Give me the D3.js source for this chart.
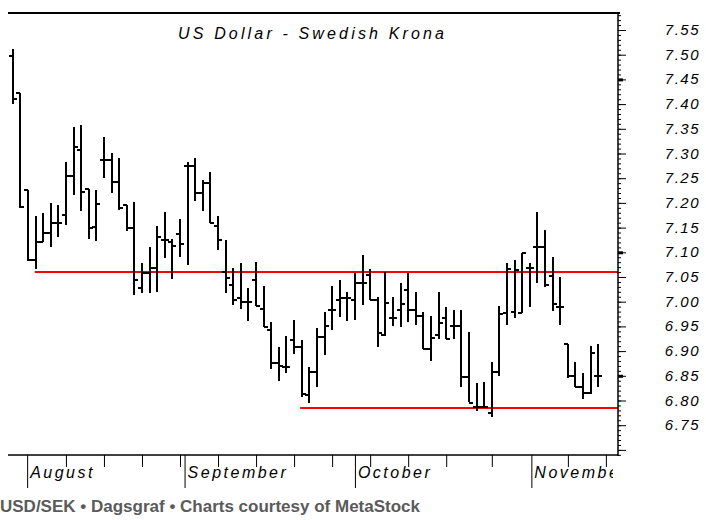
<!DOCTYPE html>
<head>
  <meta charset="utf-8">
  <script src="https://d3js.org/d3.v7.min.js"></script>
  <style>
    body { margin: 0; background: #fff; }
  </style>
</head>
<body>
  <div id="chart"></div>

  <script>
    var width = 706;
    var height = 520;

    // daily OHLC bars, end of July to start of November
    var opens  = [7.497, 7.422, 7.226, 7.084, 7.121, 7.139, 7.159, 7.175, 7.254, 7.307,
                  7.228, 7.151, 7.287, 7.287, 7.242, 7.196, 7.149, 7.028, 7.058, 7.068,
                  7.125, 7.121, 7.137, 7.275, 7.275, 7.220, 7.240, 7.153, 7.060, 7.034,
                  7.007, 6.999, 7.044, 6.985, 6.943, 6.876, 6.868, 6.922, 6.908, 6.811,
                  6.858, 6.929, 6.983, 7.003, 7.007, 7.003, 7.038, 7.054, 7.003, 6.933,
                  6.967, 6.983, 7.024, 6.983, 6.971, 6.904, 6.933, 6.967, 6.951, 6.951,
                  6.847, 6.787, 6.787, 6.775, 6.858, 6.977, 6.979, 6.977, 7.068, 7.111,
                  7.111, 7.052, 6.989, 6.914, 6.850, 6.827, 6.815, 6.850];
    var highs  = [7.511, 7.422, 7.226, 7.173, 7.179, 7.200, 7.196, 7.283, 7.354, 7.358,
                  7.228, 7.226, 7.333, 7.301, 7.291, 7.196, 7.202, 7.078, 7.111, 7.153,
                  7.182, 7.127, 7.167, 7.283, 7.291, 7.246, 7.263, 7.173, 7.125, 7.068,
                  7.078, 7.028, 7.080, 7.032, 6.959, 6.908, 6.931, 6.963, 6.922, 6.868,
                  6.947, 6.979, 7.032, 7.044, 7.020, 7.058, 7.095, 7.066, 7.010, 7.060,
                  7.010, 7.038, 7.058, 7.020, 6.979, 6.971, 7.020, 6.989, 6.983, 6.983,
                  6.939, 6.835, 6.837, 6.878, 6.991, 7.078, 7.084, 7.099, 7.078, 7.182,
                  7.145, 7.090, 7.050, 6.914, 6.878, 6.856, 6.910, 6.914];
    var lows   = [7.400, 7.190, 7.082, 7.066, 7.121, 7.111, 7.131, 7.155, 7.216, 7.184,
                  7.127, 7.123, 7.250, 7.220, 7.186, 7.143, 7.014, 7.018, 7.018, 7.020,
                  7.088, 7.046, 7.090, 7.074, 7.204, 7.184, 7.159, 7.105, 7.018, 6.993,
                  6.985, 6.961, 6.991, 6.949, 6.864, 6.839, 6.856, 6.894, 6.807, 6.795,
                  6.827, 6.892, 6.943, 6.969, 6.961, 6.963, 6.993, 7.003, 6.908, 6.931,
                  6.951, 6.949, 6.959, 6.953, 6.904, 6.880, 6.924, 6.924, 6.924, 6.827,
                  6.797, 6.779, 6.785, 6.767, 6.850, 6.953, 6.967, 6.977, 6.989, 7.038,
                  7.030, 6.981, 6.953, 6.845, 6.827, 6.803, 6.813, 6.827];
    var closes = [7.410, 7.192, 7.084, 7.121, 7.139, 7.159, 7.159, 7.254, 7.313, 7.222,
                  7.149, 7.198, 7.287, 7.242, 7.190, 7.149, 7.044, 7.058, 7.068, 7.131,
                  7.125, 7.113, 7.117, 7.275, 7.220, 7.240, 7.159, 7.125, 7.048, 7.003,
                  6.999, 6.999, 6.991, 6.949, 6.876, 6.870, 6.868, 6.908, 6.813, 6.858,
                  6.929, 6.951, 6.983, 7.007, 7.007, 7.038, 7.038, 7.003, 6.937, 6.997,
                  6.967, 6.995, 6.983, 6.971, 6.904, 6.926, 6.957, 6.924, 6.951, 6.847,
                  6.795, 6.787, 6.787, 6.858, 6.975, 7.066, 7.064, 7.099, 7.068, 7.111,
                  7.034, 6.995, 6.989, 6.850, 6.827, 6.815, 6.896, 6.850];

    // months start at these bar slots, weekly ticks in between
    var months = ['August', 'September', 'October', 'November'];
    var monthStart = [1.9, 22.6, 45, 68.2];
    var weekTicks = [7, 12, 17, 22, 27, 32, 37, 42, 47, 52, 57, 63, 73, 78];

    var priceLabels = [7.55, 7.50, 7.45, 7.40, 7.35, 7.30, 7.25, 7.20, 7.15, 7.10,
                       7.05, 7.00, 6.95, 6.90, 6.85, 6.80, 6.75];

    // drawn trend lines: level and first bar slot
    var levels = [7.06, 6.785];
    var levelFrom = [2.9, 37.8];

    var bars = opens.map((o, i) => ({i: i, o: o, h: highs[i], l: lows[i], c: closes[i]}));

    var axisX = 618;
    var x = d3.scaleLinear().domain([0, bars.length - 1]).range([12.7, 598.3]);
    var y = d3.scaleLinear().domain([6.75, 7.55]).range([425.2, 30]);

    var svg = d3.select('#chart')
      .append('svg')
        .attr('width', width)
        .attr('height', height)
        .style('display', 'block')
        .style('background', '#fff');

    // frame: top rule
    svg.append('line')
      .attr('x1', 8).attr('x2', axisX + 2)
      .attr('y1', 13).attr('y2', 13)
      .attr('stroke', '#000').attr('stroke-width', 2);

    svg.append('text')
      .attr('x', 178).attr('y', 39)
      .attr('textLength', 266)
      .attr('lengthAdjust', 'spacing')
      .style('font', 'italic 16px "Liberation Sans", Arial, sans-serif')
      .style('fill', '#000')
      .text('US Dollar - Swedish Krona');

    // red support / resistance lines
    svg.append('g')
      .selectAll('line')
      .data(levels)
      .join('line')
        .attr('x1', (d, k) => x(levelFrom[k]))
        .attr('x2', axisX)
        .attr('y1', d => Math.round(y(d)))
        .attr('y2', d => Math.round(y(d)))
        .attr('stroke', '#ff0000')
        .attr('stroke-width', 2);

    // OHLC bars
    svg.append('g')
      .selectAll('path')
      .data(bars)
      .join('path')
        .attr('d', d => {
          var bx = Math.round(x(d.i));
          return 'M' + bx + ',' + Math.round(y(d.h)) + 'V' + Math.round(y(d.l)) +
                 'M' + (bx - 4) + ',' + Math.round(y(d.o)) + 'H' + bx +
                 'M' + bx + ',' + Math.round(y(d.c)) + 'H' + (bx + 4);
        })
        .attr('fill', 'none')
        .attr('stroke', '#000')
        .attr('stroke-width', 2);

    // right price axis
    var minor = d3.range(669, 759).map(v => v / 100);
    var yAxisG = svg.append('g').attr('transform', 'translate(' + axisX + ',0)');
    yAxisG.append('g')
      .call(d3.axisRight(y).tickValues(minor).tickSize(3).tickFormat(''))
      .call(g => g.select('.domain').remove());
    yAxisG.append('g')
      .call(d3.axisRight(y).tickValues(minor.filter(v => Math.round(v * 100) % 5 == 0)).tickSize(8).tickFormat(''))
      .call(g => g.select('.domain').remove());
    yAxisG.append('g')
      .call(d3.axisRight(y).tickValues([7.45, 7.10, 6.85]).tickSize(5).tickFormat(''))
      .call(g => g.select('.domain').remove())
      .selectAll('line').attr('stroke-width', 3);
    yAxisG.append('line')
      .attr('x1', 0).attr('x2', 0)
      .attr('y1', 13).attr('y2', 456)
      .attr('stroke', '#000').attr('stroke-width', 1.5);

    svg.append('g')
      .selectAll('text')
      .data(priceLabels)
      .join('text')
        .attr('x', 700)
        .attr('y', d => y(d) + 5)
        .attr('text-anchor', 'end')
        .style('font', 'italic 15px "Liberation Sans", Arial, sans-serif')
        .style('letter-spacing', '1.5px')
        .text(d => d.toFixed(2));

    // time axis
    var xAxisY = 455;
    svg.append('line')
      .attr('x1', 8).attr('x2', axisX)
      .attr('y1', xAxisY).attr('y2', xAxisY)
      .attr('stroke', '#000').attr('stroke-width', 1.5);

    svg.append('g')
      .attr('transform', 'translate(0,' + xAxisY + ')')
      .call(d3.axisBottom(x).tickValues(weekTicks).tickSize(12).tickFormat(''))
      .call(g => g.select('.domain').remove());

    svg.append('g')
      .attr('transform', 'translate(0,' + xAxisY + ')')
      .call(d3.axisBottom(x).tickValues(monthStart).tickSize(33).tickFormat(''))
      .call(g => g.select('.domain').remove());

    svg.append('clipPath').attr('id', 'month-clip')
      .append('rect').attr('x', 0).attr('y', 455).attr('width', 613).attr('height', 40);

    svg.append('g')
      .attr('clip-path', 'url(#month-clip)')
      .selectAll('text')
      .data(months)
      .join('text')
        .attr('x', (d, k) => x(monthStart[k]) + 3)
        .attr('y', 478)
        .style('font', 'italic 16px "Liberation Sans", Arial, sans-serif')
        .style('letter-spacing', '2.5px')
        .text(d => d);

    svg.append('text')
      .attr('x', 0).attr('y', 512)
      .style('font', 'bold 17px "Liberation Sans", Arial, sans-serif')
      .style('fill', '#5a5a5a')
      .text('USD/SEK \u2022 Dagsgraf \u2022 Charts courtesy of MetaStock');
  </script>
</body>
